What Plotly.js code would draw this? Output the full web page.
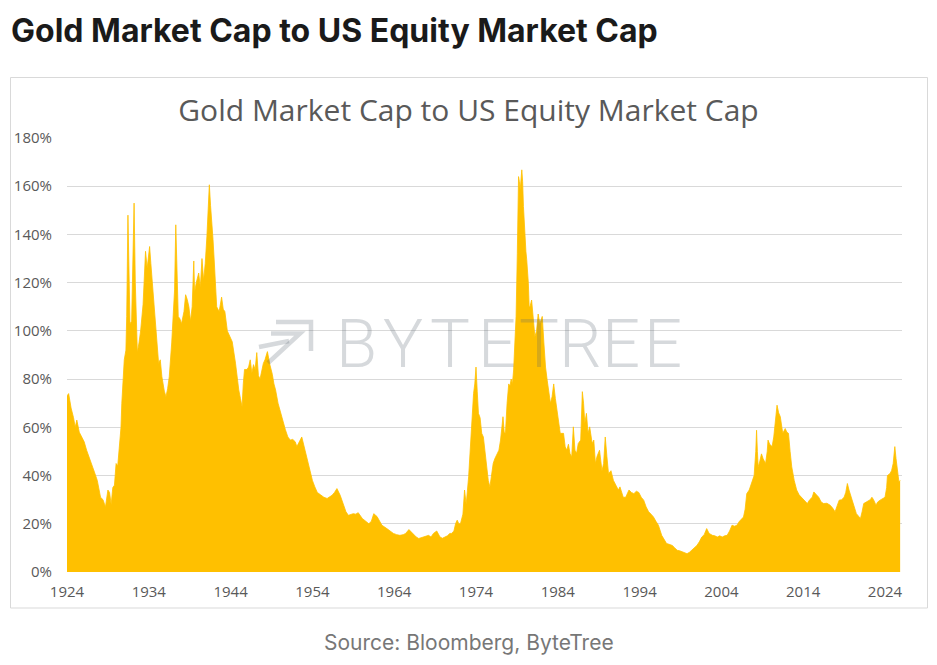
<!DOCTYPE html>
<html>
<head>
<meta charset="utf-8">
<script src="https://cdn.plot.ly/plotly-3.0.1.min.js"></script>
<style>
  html, body { margin: 0; padding: 0; background: #ffffff; }
  #chart { width: 937px; height: 665px; }
</style>
</head>
<body>
<div id="chart"></div>
<script>
// ---- Data (decimal year, % of US equity market cap) ----
const years = [
  1924.0,1924.2,1924.5,1924.8,1925.0,1925.2,1925.5,1925.8,1926.1,1926.4,1926.8,1927.1,1927.4,1927.7,
  1928.1,1928.4,1928.7,1929.0,1929.2,1929.4,1929.6,1929.8,1930.0,1930.2,1930.4,1930.6,1930.7,
  1931.0,1931.2,1931.3,1931.45,1931.55,1931.7,1931.9,1932.1,1932.2,1932.35,1932.5,1932.6,1932.8,
  1933.0,1933.3,1933.5,1933.6,1933.8,1934.0,1934.1,1934.25,1934.4,1934.6,1934.8,1935.0,1935.2,
  1935.4,1935.6,1935.9,1936.1,1936.3,1936.5,1936.8,1937.0,1937.15,1937.3,1937.45,1937.6,1937.8,
  1938.0,1938.3,1938.5,1938.7,1938.9,1939.1,1939.3,1939.5,1939.6,1939.8,1940.1,1940.3,1940.5,
  1940.7,1940.9,1941.1,1941.3,1941.4,1941.55,1941.7,1941.85,1942.0,1942.2,1942.3,1942.6,1942.9,
  1943.1,1943.3,1943.6,1943.9,1944.2,1944.6,1944.8,1945.0,1945.2,1945.4,1945.55,1945.7,1946.0,
  1946.2,1946.4,1946.6,1946.8,1947.0,1947.2,1947.4,1947.6,1948.0,1948.2,1948.5,1948.8,1949.1,
  1949.3,1949.5,1949.8,1950.1,1950.4,1950.7,1951.0,1951.3,1951.6,1951.9,1952.1,1952.4,1952.7,
  1953.1,1953.4,1953.7,1954.0,1954.3,1954.6,1955.0,1955.4,1955.8,1956.1,1956.4,1956.7,1957.0,
  1957.4,1957.8,1958.1,1958.4,1958.7,1959.0,1959.3,1959.6,1960.1,1960.5,1960.9,1961.2,1961.5,
  1961.9,1962.2,1962.5,1963.1,1963.5,1963.9,1964.3,1964.7,1965.1,1965.4,1965.8,1966.1,1966.4,
  1966.7,1967.0,1967.3,1967.6,1968.0,1968.2,1968.5,1968.8,1969.2,1969.6,1969.9,1970.2,1970.5,
  1970.8,1971.0,1971.3,1971.5,1971.7,1971.9,1972.1,1972.4,1972.6,1972.8,1973.1,1973.3,1973.4,
  1973.55,1973.7,1973.85,1974.0,1974.15,1974.3,1974.5,1974.7,1974.9,1975.1,1975.3,1975.5,1975.7,
  1975.9,1976.1,1976.3,1976.6,1976.8,1977.0,1977.2,1977.3,1977.45,1977.6,1977.8,1978.0,1978.15,
  1978.3,1978.45,1978.6,1978.75,1978.9,1979.05,1979.2,1979.3,1979.4,1979.6,1979.7,1979.8,1979.95,
  1980.1,1980.2,1980.4,1980.5,1980.6,1980.8,1981.0,1981.2,1981.4,1981.6,1981.8,1982.1,1982.3,
  1982.5,1982.7,1982.9,1983.1,1983.3,1983.5,1983.7,1983.9,1984.1,1984.3,1984.5,1984.7,1984.9,
  1985.1,1985.3,1985.5,1985.7,1985.9,1986.1,1986.3,1986.5,1986.8,1987.0,1987.15,1987.3,1987.5,
  1987.7,1987.9,1988.2,1988.4,1988.6,1988.8,1989.1,1989.4,1989.6,1989.8,1990.0,1990.2,1990.5,
  1990.8,1991.1,1991.4,1991.6,1992.0,1992.3,1992.7,1993.0,1993.3,1993.6,1993.9,1994.2,1994.5,
  1994.8,1995.1,1995.4,1995.7,1996.0,1996.3,1996.7,1997.0,1997.3,1997.6,1998.0,1998.3,1998.6,
  1998.9,1999.2,1999.5,1999.8,2000.1,2000.4,2000.7,2001.0,2001.3,2001.6,2001.9,2002.2,2002.5,
  2002.9,2003.2,2003.5,2003.8,2004.1,2004.4,2004.7,2005.0,2005.3,2005.6,2005.9,2006.2,2006.5,
  2006.7,2006.9,2007.1,2007.4,2007.7,2008.0,2008.2,2008.3,2008.4,2008.5,2008.7,2008.9,2009.1,
  2009.4,2009.6,2009.7,2009.9,2010.2,2010.4,2010.6,2010.8,2011.0,2011.2,2011.5,2011.8,2012.0,
  2012.2,2012.4,2012.6,2012.9,2013.2,2013.5,2013.9,2014.2,2014.5,2014.8,2015.1,2015.3,2015.6,
  2015.9,2016.2,2016.5,2016.9,2017.3,2017.6,2017.9,2018.1,2018.4,2018.7,2019.0,2019.2,2019.4,
  2019.6,2019.8,2020.0,2020.3,2020.5,2020.8,2021.0,2021.2,2021.4,2021.7,2022.0,2022.2,2022.4,
  2022.6,2022.9,2023.1,2023.4,2023.7,2024.0,2024.2,2024.3,2024.6,2024.8,2025.0,2025.2,2025.35,
  2025.5,2025.7,2025.85
];
const goldToEquityPct = [
  73,74,68,64,60,63,58,56,54,50.5,47,44,41,38,
  31,30,27,34,33,28,35,36,45,44,53,60,70,
  88,92,106,148,120,103,104,140,153,120,104,91,95,
  100,111,125,133,126,132,135,128,121,112,104.5,95,86.5,
  88,81,75,72.7,76,81,95,106,117,144,118,106,105,
  103,108,115,113,110,104,110,129,116,120,124,118,130,
  121,128,139,150,160.6,152,146,138,129,118,110,108,114,
  109,108,100,98,95.5,86.6,80,75.5,72,68.5,78,84,84,
  85,88,82.5,86,84,91,81.5,80,86.5,88,91.4,86,82,
  78,75.5,70,66,62,59,56,54.7,55,54,52,54,56,
  50.5,46,42,38,35.3,33,32,31,30.5,31,31.8,33,34.6,
  31.8,27.7,25,23.5,24,24.2,24,24.6,22.2,21,20,21,24.2,
  23,21,19.4,18,17,16,15.5,15.2,15.5,16,17.6,16.5,15.2,
  14.5,13.9,14.2,14.5,15,15.2,14.5,16,17,14.5,14,14.5,15,
  16,16,17,20,21.5,20,20,24,34,28,39.5,52,57.5,
  62,74,78,85,75,65.8,64,57.5,56,50.5,43.6,38,35.3,
  40,45,47,49,50.5,54.7,60,64.4,58,57.5,70,78,77,
  80,78,83.8,95,106,132,164,162,158.5,166.8,162,151.6,140,
  133,129.5,119.8,110,110,112.8,104,97.6,100,107,103,106,95,
  85,79.6,74,70,72.7,78,72,67,62,57.5,57.5,57.5,52,
  50.5,53,49,47.8,60.2,50.5,49.2,53.3,54.7,74.8,70,61.6,65.8,
  57.5,60.2,53.3,54.7,45,48,50.5,42,45,56,48,40.8,42,
  38,36,34,35.3,31,31,34,33,32.5,33.5,33,31,29.8,
  27,25,24,22.8,21,19.4,15.2,13.5,11.8,11.5,11,10,9,
  8.8,8.3,8,7.6,8.2,9,10,11,12.5,14.5,15.5,18,16,
  15.2,15,14.5,15,14.5,15,15.2,17,19.4,19,19.4,21,22,
  22.8,26,32.5,34,36.7,40,50,58.8,50,43.6,46,49,47,
  45,50,54.7,53,52,56,62,69.2,66,64.4,57.5,59.5,58,
  57.5,50,43.6,38,34,32,30.5,29.5,28.4,30,31,33.2,32,
  31,29,28.4,28.5,27.7,26.5,25,27,29.8,30,31,33,36.7,
  34,32,29.8,27,24.2,23,22.2,25,28.4,29,29.8,30,31,
  30,27.7,29,29.8,30.5,31,35,40,40.8,42,45,52,47,
  42,37.4,38
];
const xTickYears = [1924,1934,1944,1954,1964,1974,1984,1994,2004,2014,2024];
const yTickPct = [0,20,40,60,80,100,120,140,160,180];

const pageHeading = "Gold Market Cap to US Equity Market Cap";
const chartTitle = "Gold Market Cap to US Equity Market Cap";
const sourceText = "Source: Bloomberg, ByteTree";
const watermarkLetters = ["B","Y","T","E","T","R","E","E"];

// ---- Layout helpers (pixel -> paper) ----
const W = 937, H = 665;
const M = {l: 67, r: 35, t: 138, b: 93};
const PW = W - M.l - M.r, PH = H - M.t - M.b;
const px = x => (x - M.l) / PW;
const py = y => (H - M.b - y) / PH;

const wmColor = "rgba(85,95,110,0.24)";
const wmCenters = [356, 403, 450, 497, 539, 580, 621, 663];

const annotations = [
  {text: pageHeading, x: px(9), y: py(31), xref: "paper", yref: "paper",
   xanchor: "left", yanchor: "middle", showarrow: false,
   font: {family: "Inter, 'Noto Sans', sans-serif", size: 32, weight: 700, color: "#1a1a1a"}},
  {text: sourceText, x: px(468.5), y: py(642), xref: "paper", yref: "paper",
   xanchor: "center", yanchor: "middle", showarrow: false,
   font: {family: "Inter, 'Noto Sans', sans-serif", size: 21, color: "#777777"}}
];
watermarkLetters.forEach((ch, i) => {
  annotations.push({text: ch, x: px(wmCenters[i]), y: py(344), xref: "paper", yref: "paper",
    xanchor: "center", yanchor: "middle", showarrow: false,
    font: {family: "Roboto, 'Open Sans', sans-serif", size: 67, weight: 300, color: wmColor}});
});

function pathFromPixels(pts) {
  return pts.map((p, i) => (i ? "L" : "M") + px(p[0]).toFixed(5) + "," + py(p[1]).toFixed(5)).join(" ");
}

const shapes = [
  // outer chart frame
  {type: "rect", xref: "paper", yref: "paper", x0: px(10.5), x1: px(927.5), y0: py(608), y1: py(77.5),
   line: {color: "#d9d9d9", width: 1}, fillcolor: "rgba(0,0,0,0)", layer: "below"},
  // watermark logo strokes
  {type: "path", xref: "paper", yref: "paper", path: pathFromPixels([[276,322],[311,322],[311,351]]),
   line: {color: wmColor, width: 4.5}, layer: "above"},
  {type: "path", xref: "paper", yref: "paper", path: pathFromPixels([[271,333.5],[300,333.5],[268,363]]),
   line: {color: wmColor, width: 4.5}, layer: "above"},
  {type: "path", xref: "paper", yref: "paper", path: pathFromPixels([[259,347],[289,341]]),
   line: {color: wmColor, width: 4.5}, layer: "above"}
];

const trace = {
  x: years, y: goldToEquityPct, type: "scatter", mode: "lines",
  fill: "tozeroy", fillcolor: "#FFC000",
  line: {color: "#FFC000", width: 0.8, shape: "linear"},
  hoverinfo: "skip"
};

const tickFont = {family: "'Open Sans', sans-serif", size: 15, color: "#595959"};

const layout = {
  width: W, height: H,
  margin: M,
  paper_bgcolor: "#ffffff", plot_bgcolor: "#ffffff",
  showlegend: false,
  title: {text: chartTitle, xref: "container", x: 0.5, xanchor: "center",
          yref: "container", y: 1 - 110 / H, yanchor: "middle",
          font: {family: "'Open Sans', sans-serif", size: 30, color: "#595959"}},
  xaxis: {range: [1924, 1924 + PW / 8.18], tickmode: "array", tickvals: xTickYears,
          ticktext: xTickYears.map(String), showgrid: false, zeroline: false,
          showline: false, ticks: "", tickfont: tickFont, ticklabelstandoff: 9, fixedrange: true},
  yaxis: {range: [0, 180], tickmode: "array", tickvals: yTickPct,
          ticktext: yTickPct.map(v => v + "%"), showgrid: true, gridcolor: "#d9d9d9", gridwidth: 1,
          zeroline: false, showline: false, ticks: "", tickfont: tickFont, ticklabelstandoff: 14,
          fixedrange: true},
  annotations: annotations,
  shapes: shapes
};

Plotly.newPlot("chart", [trace], layout, {staticPlot: true, displayModeBar: false});
</script>
</body>
</html>
